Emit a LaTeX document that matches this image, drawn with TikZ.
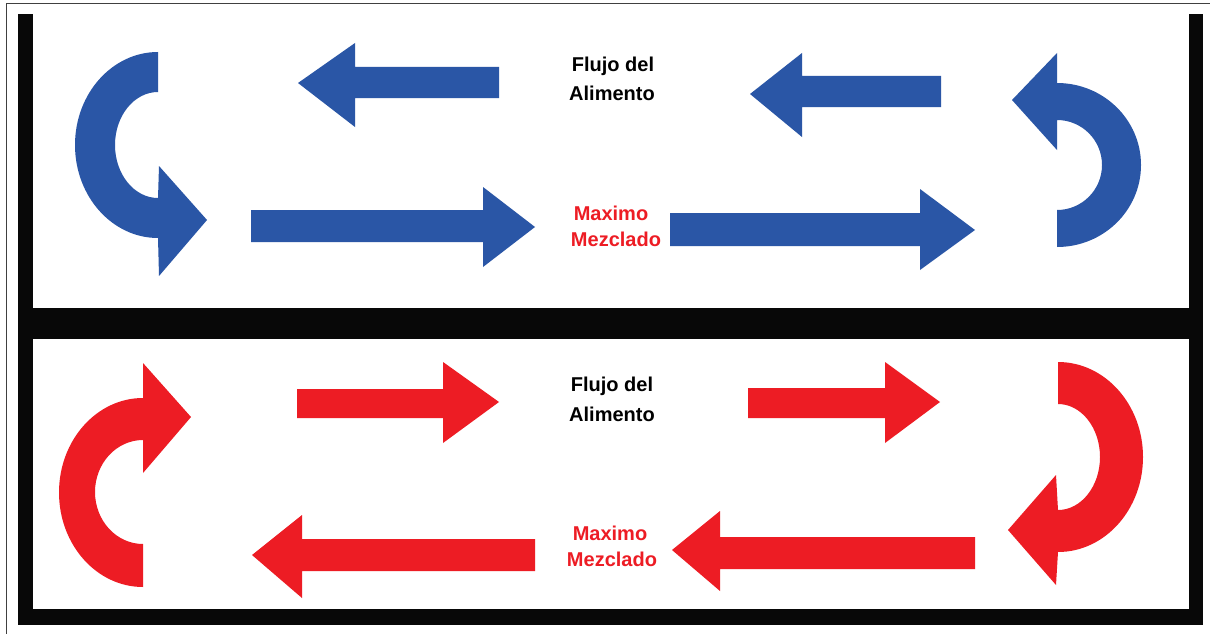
\documentclass[tikz,border=0pt]{standalone}
\usepackage{fontspec}
\setmainfont{Liberation Sans}
\begin{document}
\begin{tikzpicture}[x=1pt,y=-1pt,
  bluefill/.style={fill={rgb,255:red,42;green,86;blue,166}},
  redfill/.style={fill={rgb,255:red,237;green,28;blue,36}},
  wall/.style={fill={rgb,255:red,8;green,8;blue,8}},
  caption/.style={font=\bfseries\fontsize{20}{24}\selectfont, anchor=base, inner sep=0pt},
  blacktext/.style={caption, text=black},
  redtext/.style={caption, text={rgb,255:red,237;green,28;blue,36}}]
% canvas
\useasboundingbox (0,0) rectangle (1210,634);
\fill[white] (0,0) rectangle (1210,634);
% thin outer frame (top and left edges)
\draw[line width=1pt, black!75] (6,634) -- (6,4) -- (1210,4);

% thick walls of the tank
\fill[wall] (18,14) rectangle (33,625);
\fill[wall] (1189,14) rectangle (1203,625);
\fill[wall] (18,308) rectangle (1203,339);
\fill[wall] (18,609) rectangle (1203,625);

% ---------- upper compartment (blue) ----------
% left turn arrow
\fill[bluefill] (158,52) arc[start angle=270, end angle=90, x radius=83, y radius=93]
  -- (159,276) -- (207,220) -- (159,166) -- (158,198)
  arc[start angle=90, end angle=270, x radius=43, y radius=53] -- cycle;
% right turn arrow
\fill[bluefill] (1012,100) -- (1057,53) -- (1057,83)
  arc[start angle=-90, end angle=90, x radius=84, y radius=82]
  -- (1057,210) arc[start angle=90, end angle=-90, x radius=45, y radius=45]
  -- (1057,150) -- cycle;
% straight arrows, upper row (to the left)
\fill[bluefill] (499,67) -- (355,67) -- (355,43) -- (298,83) -- (355,127) -- (355,98) -- (499,98) -- cycle;
\fill[bluefill] (941,76) -- (802,76) -- (802,53) -- (750,94) -- (802,137) -- (802,107) -- (941,107) -- cycle;
% straight arrows, lower row (to the right)
\fill[bluefill] (251,210) -- (483,210) -- (483,187) -- (535,227) -- (483,267) -- (483,242) -- (251,242) -- cycle;
\fill[bluefill] (670,213) -- (920,213) -- (920,189) -- (975,230) -- (920,270) -- (920,246) -- (670,246) -- cycle;
% labels
\node[blacktext] (f1a) at (613,71) {Flujo del};
\node[blacktext] (f1b) at (612,100) {Alimento};
\node[redtext] (m1a) at (611,220) {Maximo};
\node[redtext] (m1b) at (616,246) {Mezclado};

% ---------- lower compartment (red) ----------
% left turn arrow
\fill[redfill] (143,587) arc[start angle=90, end angle=270, x radius=84, y radius=94.5]
  -- (143,363) -- (191,417) -- (143,473) -- (143,440)
  arc[start angle=270, end angle=90, x radius=48, y radius=52] -- cycle;
% right turn arrow
\fill[redfill] (1058,362) arc[start angle=-90, end angle=90, x radius=85, y radius=95]
  -- (1056,585) -- (1008,530) -- (1056,475) -- (1058,510)
  arc[start angle=90, end angle=-90, x radius=42, y radius=53] -- cycle;
% straight arrows, upper row (to the right)
\fill[redfill] (297,389) -- (443,389) -- (443,362) -- (499,402) -- (443,443) -- (443,418) -- (297,418) -- cycle;
\fill[redfill] (748,388) -- (885,388) -- (885,362) -- (940,402) -- (885,443) -- (885,418) -- (748,418) -- cycle;
% straight arrows, lower row (to the left)
\fill[redfill] (535,539) -- (302,539) -- (302,515) -- (252,555) -- (302,598) -- (302,571) -- (535,571) -- cycle;
\fill[redfill] (975,537) -- (720,537) -- (720,511) -- (672,550) -- (720,591) -- (720,569) -- (975,569) -- cycle;
% labels
\node[blacktext] (f2a) at (612,391) {Flujo del};
\node[blacktext] (f2b) at (612,421) {Alimento};
\node[redtext] (m2a) at (610,540) {Maximo};
\node[redtext] (m2b) at (612,566) {Mezclado};
\end{tikzpicture}
\end{document}
